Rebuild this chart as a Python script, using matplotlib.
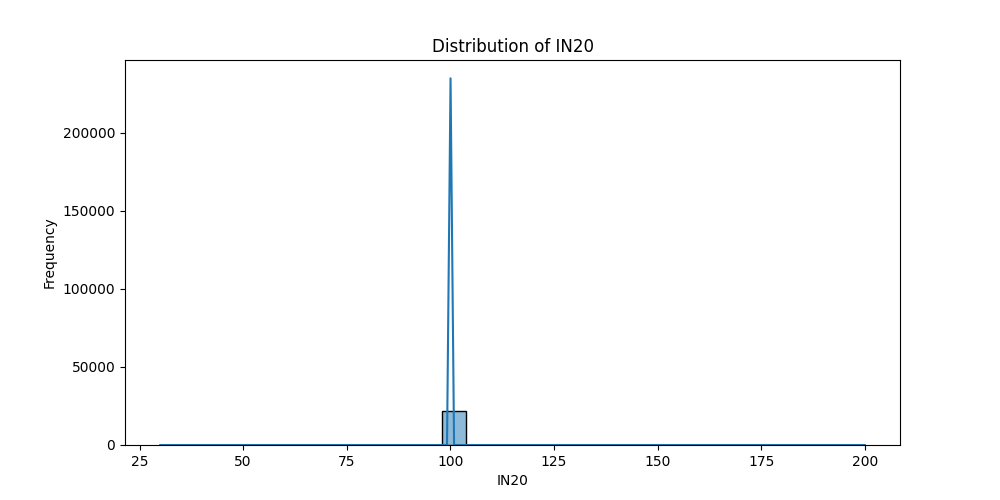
import matplotlib
matplotlib.use("Agg")
import matplotlib.pyplot as plt
from matplotlib.colors import to_rgba

# Histogram: 30 equal bins from 30 to 200
bin_lo = 30.0
bin_hi = 200.0
n_bins = 30
counts = [3, 0, 0, 0, 0, 0, 0, 0, 0, 0, 0, 0, 21800, 0, 0,
          0, 0, 0, 0, 0, 0, 0, 0, 0, 0, 0, 0, 0, 0, 2]

# KDE curve (scaled to counts)
kde_x = [30.0, 99.2, 100.05, 100.9, 200.0]
kde_y = [0, 0, 235000, 0, 0]

title = "Distribution of IN20"
xlabel = "IN20"
ylabel = "Frequency"

fig, ax = plt.subplots(figsize=(10, 5), dpi=100)
width = (bin_hi - bin_lo) / n_bins
lefts = [bin_lo + i * width for i in range(n_bins)]
ax.bar(lefts, counts, width=width, align="edge",
       facecolor=to_rgba("C0", 0.5), edgecolor="black", linewidth=1)
ax.plot(kde_x, kde_y, color="C0", linewidth=1.5)
ax.set_title(title)
ax.set_xlabel(xlabel)
ax.set_ylabel(ylabel)
fig.savefig("out.png")
